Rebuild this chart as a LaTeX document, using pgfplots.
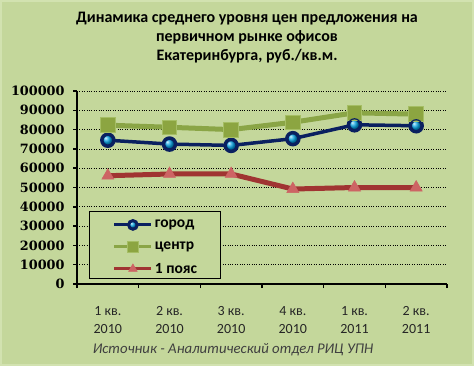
\documentclass[border=0pt]{standalone}
\usepackage{fontspec}
\setmainfont{Carlito}
\newfontfamily\tickfont{DejaVu Serif}
\usepackage{pgfplots}
\pgfplotsset{compat=1.18}
\definecolor{bg}{RGB}{196,215,155}
\definecolor{bgedge}{RGB}{210,226,176}
\definecolor{navy}{RGB}{10,32,96}
\definecolor{ballc}{RGB}{0,160,225}
\definecolor{olive}{RGB}{138,165,70}
\definecolor{oliveM}{RGB}{140,165,65}
\definecolor{oliveE}{RGB}{165,190,100}
\definecolor{dred}{RGB}{160,52,50}
\definecolor{pinkm}{RGB}{205,100,100}
\begin{document}
\begin{tikzpicture}[x=1bp,y=1bp]
\fill[bg] (0,0) rectangle (474,366);
\draw[bgedge, line width=2bp] (1,1) rectangle (473,365);
\node[font=\fontsize{16bp}{19bp}\selectfont\bfseries, align=center, anchor=north, inner sep=0pt] at (247,354) {Динамика среднего уровня цен предложения на\\первичном рынке офисов\\Екатеринбурга, руб./кв.м.};
\node[font=\fontsize{14.8bp}{16bp}\selectfont\itshape, text=black!75, inner sep=0pt] at (233,16) {Источник - Аналитический отдел РИЦ УПН};
\begin{axis}[at={(77bp,82bp)}, anchor=south west, scale only axis, width=370bp, height=193bp,
  xmin=0.5, xmax=6.5, ymin=0, ymax=100000,
  axis x line*=bottom, axis y line*=left,
  axis line style={black, line width=1.5bp, -},
  xtick={0.5,1.5,...,6.5}, x tick label as interval,
  xticklabels={{1 кв.\\2010},{2 кв.\\2010},{3 кв.\\2010},{4 кв.\\2010},{1 кв.\\2011},{2 кв.\\2011}},
  ytick={0,10000,...,100000},
  tick align=outside, major tick length=4bp,
  tick style={black, line width=1.5bp},
  ymajorgrids, grid style={black, dotted, line width=0.8bp},
  scaled y ticks=false,
  yticklabel={\pgfmathprintnumber[fixed, precision=0, 1000 sep={}, assume math mode=true]{\tick}},
  yticklabel style={font=\tickfont\bfseries\fontsize{12.8bp}{14bp}\selectfont, xshift=-5bp},
  xticklabel style={align=center, font=\fontsize{14bp}{18bp}\selectfont, text=black!85, yshift=-15bp},
  legend style={at={(0.0965,0.3642)}, anchor=north west, draw=none, fill=none,
    font=\bfseries\fontsize{15.5bp}{17bp}\selectfont, row sep=0pt, column sep=2bp, inner sep=0pt,
    nodes={inner xsep=0pt, inner ysep=0pt, minimum height=22bp}},
  legend cell align=left,
  legend image code/.code={\draw[mark repeat=2,mark phase=2,#1, line width=3bp, every mark/.append style={scale=0.72}] plot coordinates {(0bp,0bp) (18.5bp,0bp) (37bp,0bp)};},
]
\addplot[navy, line width=3.5bp, mark=ball, mark size=6bp, mark options={ball color=ballc}] coordinates {
 (1,74500) (2,72500) (3,71800) (4,75300) (5,82500) (6,82000)};
\addlegendentry{город}
\addplot[olive, line width=5bp, mark=square*, mark size=7.3bp, mark options={fill=oliveM, draw=oliveE, line width=0.8bp}] coordinates {
 (1,82300) (2,81200) (3,80000) (4,83800) (5,88700) (6,88000)};
\addlegendentry{центр}
\addplot[dred, line width=5bp, mark=triangle*, mark size=7bp, mark options={fill=pinkm, draw=pinkm, line width=0.5bp}] coordinates {
 (1,56100) (2,57000) (3,57000) (4,49200) (5,50000) (6,50000)};
\addlegendentry{1 пояс}
\addplot[only marks, forget plot, mark=o, mark size=6bp, mark options={draw=navy, line width=1.2bp}] coordinates {
 (1,74500) (2,72500) (3,71800) (4,75300) (5,82500) (6,82000)};
\draw[fill=bg, draw=black, line width=1bp] (rel axis cs:0.0351,0.031) rectangle (rel axis cs:0.3865,0.378);
\end{axis}
\end{tikzpicture}
\end{document}
